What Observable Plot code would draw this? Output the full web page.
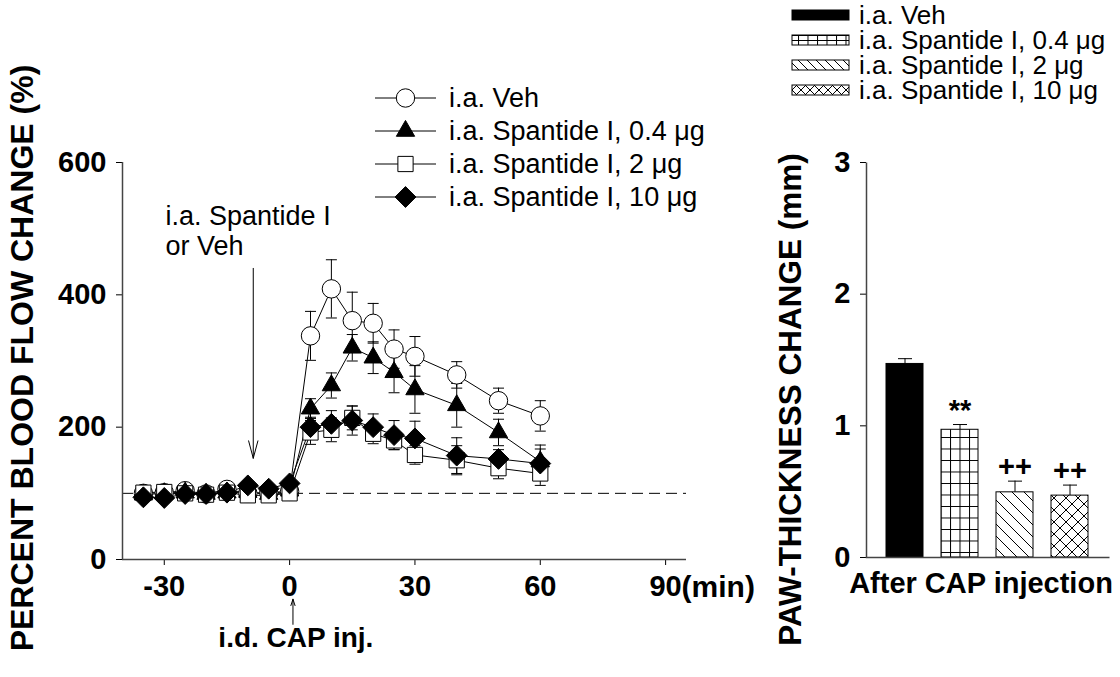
<!DOCTYPE html>
<html><head><meta charset="utf-8">
<script src="https://cdn.jsdelivr.net/npm/d3@7"></script>
<script src="https://cdn.jsdelivr.net/npm/@observablehq/plot@0.6"></script>
<style>
body{margin:0;background:#fff;}
#wrap{position:relative;width:1120px;height:677px;overflow:hidden;background:#fff;font-family:"Liberation Sans",Arial,sans-serif;}
#left,#right{position:absolute;top:0;}
#left{left:0}
#right{left:760px}
</style></head><body>
<div id="wrap"><div id="left"></div><div id="right"></div></div>
<script>
// ---------- data: time course (left panel) ----------
const times = [-35,-30,-25,-20,-15,-10,-5,0,5,10,15,20,25,30,40,50,60];
const seriesNames = ["i.a. Veh","i.a. Spantide I, 0.4 μg","i.a. Spantide I, 2 μg","i.a. Spantide I, 10 μg"];
const vehMean  = [100,101,104, 99,106,100,101,103,338,409,361,357,318,307,279,240,217];
const vehSE    = [  6,  6,  6,  6,  8,  6,  6,  6, 37, 44, 43, 30, 29, 30, 20, 19, 23];
const sp04Mean = [ 98,100,101, 99,101,102, 99,104,228,263,320,305,283,257,233,192,148];
const sp04SE   = [  6,  6,  6,  6,  6,  6,  6,  6, 15, 19, 20, 24, 31, 36, 33, 20, 25];
const sp2Mean  = [101,102,100, 98,101, 97, 97,100,192,196,214,190,180,158,150,138,130];
const sp2SE    = [  6,  6,  6,  6,  6,  6,  6,  6, 18, 18, 18, 15, 14, 14, 22, 16, 18];
const sp10Mean = [ 94, 93, 99, 99,101,112,107,115,200,205,210,200,188,183,157,152,145];
const sp10SE   = [  6,  6,  6,  6,  6,  6,  6,  6, 15, 20, 22, 20, 22, 26, 27, 14, 22];
const xTicks = [-30,0,30,60,90];
const yTicks = [0,200,400,600];
const baselineValue = [100];

// ---------- data: paw thickness (right panel) ----------
const barGroups = ["Veh","0.4","2","10"];
const barMean = [1.47, 0.97, 0.495, 0.47];
const barSE   = [0.04, 0.04, 0.085, 0.08];
const barSig  = ["", "**", "++", "++"];
const barTicks = [0,1,2,3];

// ---------- annotations ----------
const iaArrow = [{x:-8.7, y1:440, y2:153}];
const iaText  = [{x:-29.7, y:497, text:"i.a. Spantide I\nor Veh"}];
const capArrow = [{x:0.8, y1:-98, y2:-60}];
const capText  = [{x:1.5, y:-119, text:"i.d. CAP inj."}];

// ---------- styles ----------
const symbols = ["circle","triangle","square","diamond2"];
const fills   = ["white","black","white","black"];
const radii   = [9.2, 6.8, 8.6, 9.4];
const FONT = '"Liberation Sans", Arial, sans-serif';

const means = [vehMean, sp04Mean, sp2Mean, sp10Mean];
const ses = [vehSE, sp04SE, sp2SE, sp10SE];
const rows = [];
seriesNames.forEach((s,i)=> times.forEach((t,j)=> rows.push({s, i, t, v: means[i][j], se: ses[i][j]})));

const cap = w => ({draw(ctx){ ctx.moveTo(-w/2,0); ctx.lineTo(w/2,0); }});

const leftMarks = [
  Plot.ruleY(baselineValue, {stroke:"black", strokeWidth:1, strokeDasharray:"11,6"}),
  Plot.ruleY([0], {stroke:"#444", strokeWidth:1.5}),
  Plot.ruleX([-40], {stroke:"#444", strokeWidth:1.5}),
  Plot.line(rows, {x:"t", y:"v", z:"s", stroke:"black", strokeWidth:1}),
  Plot.ruleX(rows, {x:"t", y1:d=>d.v-d.se, y2:d=>d.v+d.se, stroke:"black", strokeWidth:1}),
  Plot.dot(rows, {x:"t", y:d=>d.v+d.se, symbol:cap(11), r:5, fill:"none", stroke:"black", strokeWidth:1}),
  Plot.dot(rows, {x:"t", y:d=>d.v-d.se, symbol:cap(11), r:5, fill:"none", stroke:"black", strokeWidth:1}),
  ...seriesNames.map((s,i)=> Plot.dot(rows.filter(d=>d.i===i), {x:"t", y:"v", symbol:symbols[i], r:radii[i], fill:fills[i], stroke:"black", strokeWidth:1})),
  Plot.arrow(iaArrow, {x1:"x", x2:"x", y1:"y1", y2:"y2", stroke:"black", strokeWidth:1, headLength:27, headAngle:30}),
  Plot.text(iaText, {x:"x", y:"y", text:"text", textAnchor:"start", lineHeight:1.1, fontSize:27, fontWeight:"normal"}),
  Plot.arrow(capArrow, {x1:"x", x2:"x", y1:"y1", y2:"y2", stroke:"black", strokeWidth:1, headLength:10, headAngle:36}),
  Plot.text(capText, {x:"x", y:"y", text:"text", fontSize:28, fontWeight:"bold"}),
  Plot.text([{x:90, y:0, text:"(min)"}], {x:"x", y:"y", text:"text", textAnchor:"start", lineAnchor:"top", dx:16, dy:16, fontSize:30, fontWeight:"bold"}),
  Plot.text(["PERCENT BLOOD FLOW CHANGE (%)"], {frameAnchor:"left", text:d=>d, textAnchor:"middle", lineAnchor:"middle", rotate:-90, dx:-100, dy:-3, fontSize:32, fontWeight:"bold"})
];

const left = Plot.plot({
  width:760, height:677,
  marginLeft:122, marginRight:74, marginTop:162, marginBottom:118,
  style:{fontFamily:FONT, fontSize:"29px", fontWeight:"bold", color:"black", background:"white", overflow:"visible"},
  x:{domain:[-40,95], ticks:xTicks, tickSize:6, tickPadding:10, tickFormat:d=>String(d), label:null},
  y:{domain:[0,600], ticks:yTicks, tickSize:6, tickPadding:10, tickFormat:d=>String(d), label:null},
  marks:leftMarks
});
document.getElementById("left").appendChild(left);

const bars = barGroups.map((g,i)=>({g, v:barMean[i], se:barSE[i], sig:barSig[i], i}));
const patternIds = ["url(#pSolid)","url(#pGrid)","url(#pDiag)","url(#pCross)"];

const right = Plot.plot({
  width:360, height:677,
  marginLeft:106, marginRight:11, marginTop:162, marginBottom:120,
  style:{fontFamily:FONT, fontSize:"29px", fontWeight:"bold", color:"black", background:"white", overflow:"visible"},
  x:{domain:barGroups, axis:null, paddingInner:0.325, paddingOuter:0.34},
  y:{domain:[0,3], ticks:barTicks, tickSize:6, tickPadding:10, tickFormat:d=>String(d), label:null},
  marks:[
    Plot.ruleX(bars, {x:"g", y1:"v", y2:d=>d.v+d.se, stroke:"black", strokeWidth:1}),
    Plot.dot(bars, {x:"g", y:d=>d.v+d.se, symbol:cap(14), r:5, fill:"none", stroke:"black", strokeWidth:1}),
    Plot.barY(bars, {x:"g", y:"v", fill:"white", stroke:"black", strokeWidth:1}),
    Plot.frame({stroke:"#444", strokeWidth:1.5, strokeDasharray:"0,638,638"}),
    Plot.text(bars, {x:"g", y:d=>d.v+d.se, text:"sig", dy:-14, fontSize:29, fontWeight:"bold"}),
    Plot.text(["After CAP injection"], {frameAnchor:"bottom", text:d=>d, textAnchor:"middle", lineAnchor:"middle", dy:26, dx:-7, fontSize:29, fontWeight:"bold"}),
    Plot.text([{v:1.2, label:"PAW-THICKNESS CHANGE (mm)"}], {y:"v", frameAnchor:"left", text:"label", textAnchor:"middle", lineAnchor:"middle", rotate:-90, dx:-76, fontSize:31.5, fontWeight:"bold"})
  ]
});
document.getElementById("right").appendChild(right);
d3.select(right).selectAll("g[aria-label='bar'] rect").attr("fill", (d,k)=>patternIds[typeof d === "number" ? d : k]);

// ---------- legends + pattern defs ----------
const ov = d3.select("#wrap").append("svg")
  .attr("width",1120).attr("height",677)
  .style("position","absolute").style("left",0).style("top",0).style("pointer-events","none");
const defs = ov.append("defs");
function pat(id, w, h, d, bg){
  const p = defs.append("pattern").attr("id",id).attr("patternUnits","userSpaceOnUse").attr("width",w).attr("height",h);
  p.append("rect").attr("width",w).attr("height",h).attr("fill",bg||"white");
  if (d) p.append("path").attr("d",d).attr("stroke","black").attr("stroke-width",1).attr("fill","none");
}
pat("pSolid", 10, 10, null, "black");
pat("pGrid", 9.5, 11.5, "M0.5 0 V11.5 M0 0.5 H9.5");
pat("pDiag", 12, 12, "M0 0 L12 12 M-3 9 L3 15 M9 -3 L15 3");
pat("pCross", 12, 12, "M0 0 L12 12 M-3 9 L3 15 M9 -3 L15 3 M0 12 L12 0 M-3 3 L3 -3 M9 15 L15 9");
pat("lGrid", 9.5, 5, "M0.5 0 V5 M0 0.5 H9.5");
pat("lDiag", 9, 9, "M0 0 L9 9 M-3 6 L3 12 M6 -3 L12 3");
pat("lCross", 9, 9, "M0 0 L9 9 M-3 6 L3 12 M6 -3 L12 3 M0 9 L9 0 M-3 3 L3 -3 M6 12 L12 6");
const legendPatterns = ["url(#pSolid)","url(#lGrid)","url(#lDiag)","url(#lCross)"];

// left legend
const d3sym = {circle:d3.symbolCircle, triangle:d3.symbolTriangle, square:d3.symbolSquare, diamond2:d3.symbolDiamond2};
const lg = ov.append("g").attr("font-family",FONT).attr("font-size",27);
seriesNames.forEach((s,i)=>{
  const y = 98 + i*33;
  lg.append("line").attr("x1",375).attr("x2",436).attr("y1",y).attr("y2",y).attr("stroke","black");
  lg.append("path").attr("d", d3.symbol(d3sym[symbols[i]], Math.PI*radii[i]*radii[i])())
    .attr("transform",`translate(405.5,${y})`).attr("fill",fills[i]).attr("stroke","black");
  lg.append("text").attr("x",449).attr("y",y).attr("dy","0.35em").text(s);
});
// right legend
const rg = ov.append("g").attr("font-family",FONT).attr("font-size",26);
seriesNames.forEach((s,i)=>{
  const y = 15 + i*25;
  rg.append("rect").attr("x",792).attr("y",y-5).attr("width",57).attr("height",10)
    .attr("fill",legendPatterns[i]).attr("stroke","black");
  rg.append("text").attr("x",859).attr("y",y).attr("dy","0.35em").text(s);
});
</script>
</body></html>
